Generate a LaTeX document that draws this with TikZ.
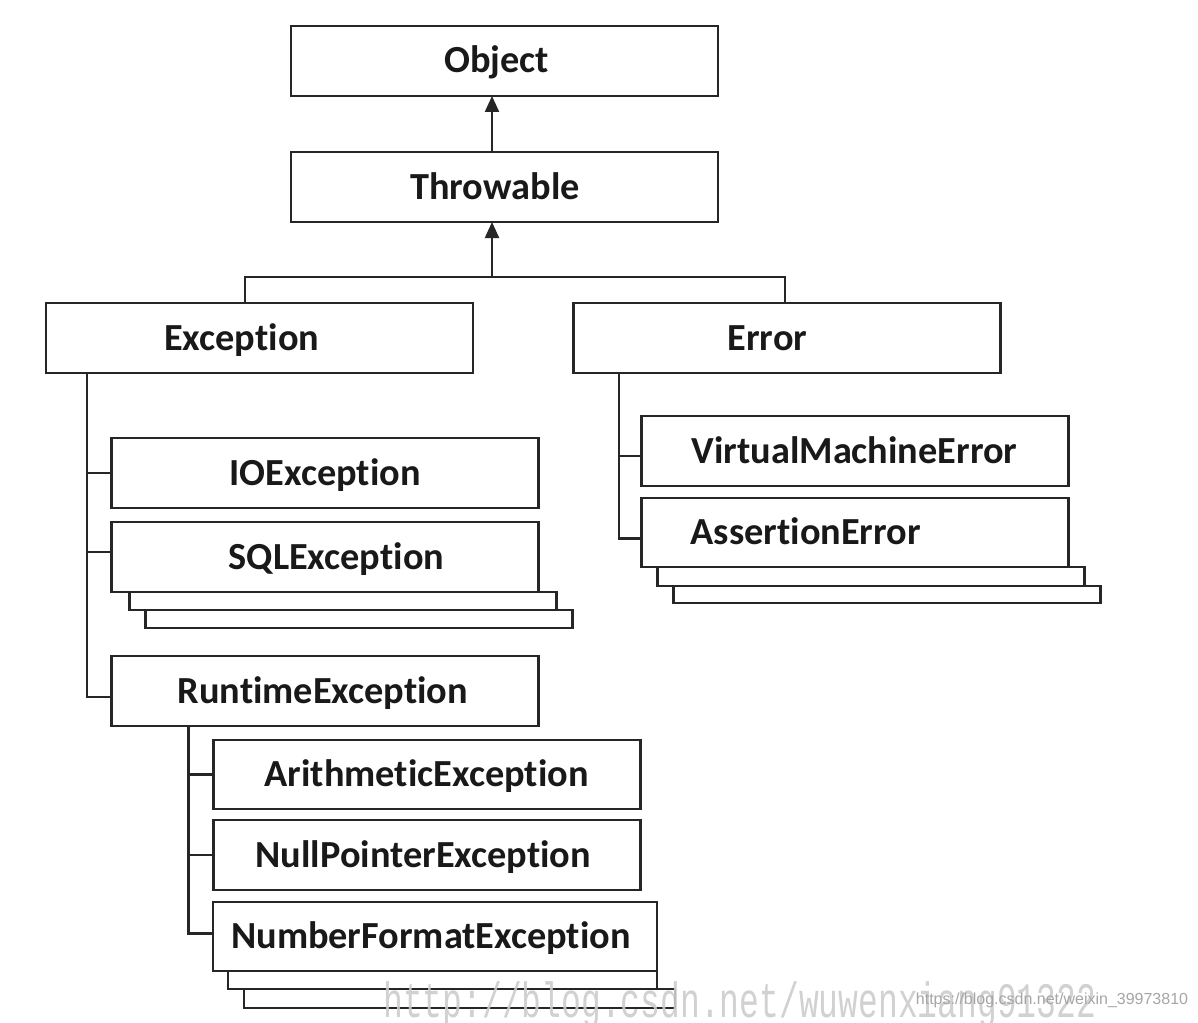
\documentclass[tikz,border=0pt]{standalone}
\usepackage{fontspec}
\setmainfont{Carlito}[Ligatures=NoCommon]
\newfontfamily\markfont{Liberation Mono}
\newfontfamily\urlfont{Liberation Sans}
\usetikzlibrary{arrows.meta,backgrounds,positioning}
\tikzstyle{classbox}=[
  draw=black!85, line width=2.2pt, fill=white, rectangle,
  inner sep=0pt, outer sep=0pt, minimum width=427pt, minimum height=70pt
]
\tikzstyle{classname}=[
  anchor=west, inner sep=0pt, text height=24pt, text depth=0pt,
  font=\fontsize{38.3}{40}\selectfont\bfseries, text=black!90
]
\tikzstyle{stack}=[
  draw=black!85, line width=2.2pt, fill=white
]
\tikzstyle{link}=[
  draw=black!85, line width=2.2pt
]
\tikzstyle{inherit}=[
  link, -{Triangle[length=16pt,width=14pt]}
]

\begin{document}
\begin{tikzpicture}[x=1pt,y=-1pt]
  \useasboundingbox (0,0) rectangle (1198,1022);
  % class boxes
  \node (obj) [classbox] at (504.5,61) {};
  \node (thr) [classbox] at (504.5,187) {};
  \node (exc) [classbox] at (259.5,338) {};
  \node (err) [classbox] at (787,338) {};
  \node (io)  [classbox] at (325,473) {};
  \node (sql) [classbox] at (325,557) {};
  \node (rt)  [classbox] at (325,691) {};
  \node (ari) [classbox, minimum height=69pt] at (427,774.5) {};
  \node (npe) [classbox] at (427,855) {};
  \node (nfe) [classbox, minimum width=444pt, minimum height=69pt] at (435,936.5) {};
  \node (vme) [classbox] at (855,451) {};
  \node (ass) [classbox, minimum height=69pt] at (855,532.5) {};
  % names
  \node (obj-t) [classname] at ([xshift=153pt]obj.west) {Object};
  \node (thr-t) [classname] at ([xshift=119pt]thr.west) {Throwable};
  \node (exc-t) [classname] at ([xshift=118pt]exc.west) {Exception};
  \node (err-t) [classname] at ([xshift=154pt]err.west) {Error};
  \node (io-t)  [classname] at ([xshift=118pt]io.west) {IOException};
  \node (sql-t) [classname] at ([xshift=117pt]sql.west) {SQLException};
  \node (rt-t)  [classname] at ([xshift=66pt]rt.west) {RuntimeException};
  \node (ari-t) [classname] at ([xshift=51pt]ari.west) {ArithmeticException};
  \node (npe-t) [classname] at ([xshift=42pt]npe.west) {NullPointerException};
  \node (nfe-t) [classname] at ([xshift=18pt]nfe.west) {NumberFormatException};
  \node (vme-t) [classname] at ([xshift=50pt]vme.west) {VirtualMachineError};
  \node (ass-t) [classname] at ([xshift=49pt]ass.west) {AssertionError};
  % stacked copies below the last box of a group
  \begin{scope}[on background layer]
    \fill [white] (0,0) rectangle (1198,1022);
    \draw [stack] ([shift={(34,18)}]sql.south west) rectangle ([shift={(34,36)}]sql.south east);
    \draw [stack] ([shift={(18,0)}]sql.south west) rectangle ([shift={(18,18)}]sql.south east);
    \draw [stack] ([shift={(31,18)}]nfe.south west) rectangle ([shift={(18,37)}]nfe.south east);
    \draw [stack] ([shift={(15,0)}]nfe.south west) rectangle ([shift={(0,18)}]nfe.south east);
    \draw [stack] ([shift={(32,19)}]ass.south west) rectangle ([shift={(32,36)}]ass.south east);
    \draw [stack] ([shift={(16,0)}]ass.south west) rectangle ([shift={(16,19)}]ass.south east);
  \end{scope}
  % inheritance
  \coordinate (split) at (492,277);
  \coordinate (exc-up) at (245,277);
  \coordinate (err-up) at (785,277);
  \draw [inherit] (thr.north -| split) -- (obj.south -| split);
  \draw [inherit] (split) -- (thr.south -| split);
  \draw [link] (exc-up |- exc.north) -- (exc-up) -- (err-up) -- (err-up |- err.north);
  \coordinate (exc-trunk) at ([xshift=41pt]exc.south west);
  \draw [link] (exc-trunk) |- (io.west);
  \draw [link] (exc-trunk) |- ([yshift=5pt]sql.west);
  \draw [link] (exc-trunk) |- ([yshift=-6pt]rt.west);
  \coordinate (rt-trunk) at ([xshift=77pt]rt.south west);
  \draw [link] (rt-trunk) |- (ari.west);
  \draw [link] (rt-trunk) |- (npe.west);
  \draw [link] (rt-trunk) |- ([yshift=3pt]nfe.west);
  \coordinate (err-trunk) at ([xshift=45.5pt]err.south west);
  \draw [link] (err-trunk) |- ([yshift=-5pt]vme.west);
  \draw [link] (err-trunk) |- ([yshift=-6pt]ass.west);
  % watermarks
  \node (mark) [anchor=base west, inner sep=0pt, text=gray!40, opacity=0.9,
    font=\markfont\fontsize{33}{33}\selectfont] at (383,1017)
    {\scalebox{1}[1.5]{http://blog.csdn.net/wuwenxiang91322}};
  \node (url) [inner sep=0pt, text=gray!70,
    font=\urlfont\fontsize{16}{16}\selectfont] at (1052,1000)
    {https://blog.csdn.net/weixin\_39973810};
\end{tikzpicture}
\end{document}
